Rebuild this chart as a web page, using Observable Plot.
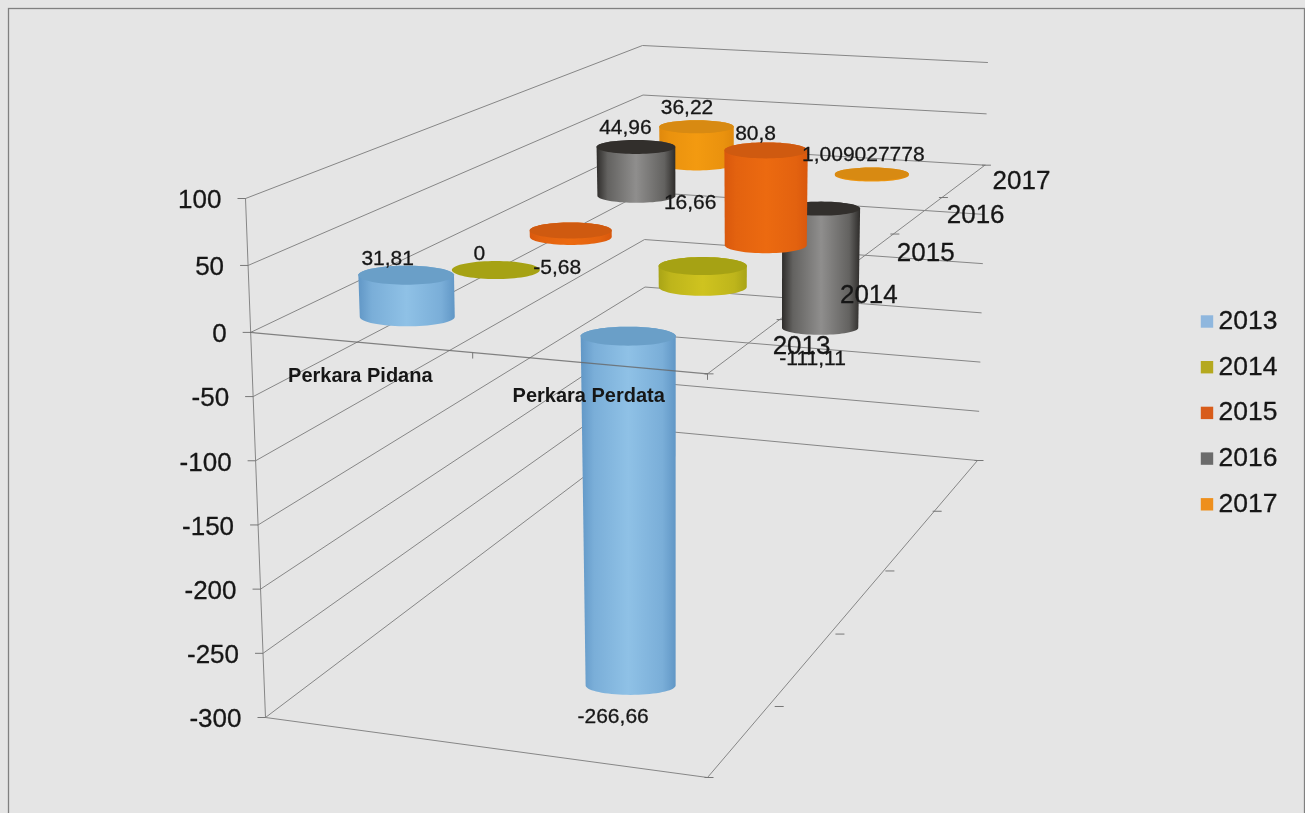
<!DOCTYPE html>
<html>
<head>
<meta charset="utf-8">
<script src="https://cdn.jsdelivr.net/npm/d3@7"></script>
<script src="https://cdn.jsdelivr.net/npm/@observablehq/plot@0.6"></script>
<style>
html,body{margin:0;padding:0;background:#e5e5e5;overflow:hidden}
svg{display:block;filter:blur(0.4px)}
</style>
</head>
<body>
<div id="chart"></div>
<script>
// ---- data ----
const categories = ["Perkara Pidana", "Perkara Perdata"];
const years = [2013, 2014, 2015, 2016, 2017];
const perkaraPidana = [31.81, 0, -5.68, 44.96, 36.22];
const perkaraPerdata = [-266.66, 16.66, 80.8, -111.11, 1.009027778];
const pidanaLabels = ["31,81", "0", "-5,68", "44,96", "36,22"];
const perdataLabels = ["-266,66", "16,66", "80,8", "-111,11", "1,009027778"];
const valueTicks = [100, 50, 0, -50, -100, -150, -200, -250, -300];

// ---- 3-D box of the chart: corners in screen space (t = value level, c = category, d = depth) ----
const level = d3.scaleLinear().domain([100, 0, -300]).range([0, 0.258, 1]);
const FL = [[245, 198], [265, 717]], FR = [[707, 233], [707, 777]];
const BL = [[642, 45], [646, 429]], BR = [[987, 62], [977, 460]];
const lerp = (a, b, k) => a + (b - a) * k;
const edge = (e, t) => [lerp(e[0][0], e[1][0], t), lerp(e[0][1], e[1][1], t)];
function project(c, d, v) {
  const t = level(v);
  const fl = edge(FL, t), fr = edge(FR, t), bl = edge(BL, t), br = edge(BR, t);
  const f = [lerp(fl[0], fr[0], c), lerp(fl[1], fr[1], c)];
  const b = [lerp(bl[0], br[0], c), lerp(bl[1], br[1], c)];
  // small perspective correction inside the box, below the zero level
  const sag = 108 * Math.max(0, t - 0.258) * d * (1 - d) * (1 - d);
  return {x: lerp(f[0], b[0], d), y: lerp(f[1], b[1], d) + sag};
}
const depthEdges = [0, 0.26, 0.485, 0.67, 0.845, 1];
const depthMid = years.map((_, i) => (depthEdges[i] + depthEdges[i + 1]) / 2);
const catMid = [0.24, 0.74];
const catEdge = [0, 0.486, 1];

// ---- styling by series ----
const radiusX = [47.5, 44, 41, 39, 37];
const radiusY = [9.5, 9, 8, 7, 6.5];
const bodyEdge = ["#6197c6", "#a9a416", "#d9580d", "#2e2c2a", "#e0890c"];
const bodyMid  = ["#8fc1e6", "#cfc31f", "#ec6a10", "#8f8e8d", "#f39a10"];
const capFill  = ["#6a9fc8", "#a6a214", "#cf5a10", "#322f2c", "#d88a12"];
const swatch   = ["#8fb7de", "#b5a91f", "#d85c1a", "#6b6b6b", "#ee8f1c"];
const textInk = "#161616";

// ---- build rows ----
const rows = [];
years.forEach((year, i) => {
  rows.push({year, i, c: 0, value: perkaraPidana[i], label: pidanaLabels[i]});
  rows.push({year, i, c: 1, value: perkaraPerdata[i], label: perdataLabels[i]});
});
const labelShift = {
  "31,81": [-19, -17], "0": [-17, -17], "-5,68": [-14, 30], "44,96": [-11, -20], "36,22": [-10, -20],
  "80,8": [-11, -18], "16,66": [-13, -64], "1,009027778": [-9, -20], "-111,11": [-8, 30], "-266,66": [-18, 30]
};
const thetas = d3.range(0, 37).map(k => Math.PI - k * Math.PI / 36);
const shrink = v => 1 + 0.08 * (0.258 - level(v));

function cylinderShapes(r) {
  const a = project(catMid[r.c], depthMid[r.i], Math.max(r.value, 0));
  const b = project(catMid[r.c], depthMid[r.i], Math.min(r.value, 0));
  const ax = radiusX[r.i] * shrink(Math.max(r.value, 0));
  const bx = radiusX[r.i] * shrink(Math.min(r.value, 0));
  const ry = radiusY[r.i];
  const body = thetas.map(h => ({
    x1: a.x + ax * Math.cos(h), y1: a.y - ry * Math.sin(h),
    x2: b.x + bx * Math.cos(h), y2: b.y + ry * Math.sin(h)
  }));
  const cap = thetas.map(h => ({
    x1: a.x + ax * Math.cos(h), y1: a.y - ry * Math.sin(h),
    x2: a.x + ax * Math.cos(h), y2: a.y + ry * Math.sin(h)
  }));
  return {body, cap};
}

// ---- lines ----
const gridRows = valueTicks.flatMap(v => {
  const t = level(v), a = edge(FL, t), b = edge(BL, t), e = edge(BR, t);
  return [{x: a[0], y: a[1], v}, {x: b[0], y: b[1], v}, {x: e[0], y: e[1], v}];
});
const axisTicks = valueTicks.map(v => ({v, ...project(0, 0, v)}));
const depthTickRows = [0, -300].flatMap(v => depthEdges.map(d => ({...project(1, d, v)})));
const catTickRows = catEdge.slice(1).map(c => ({...project(c, 0, 0)}));
const categoryAxis = [project(0, 0, 0), project(1, 0, 0)];
const depthAxis = [project(1, 0, 0), project(1, 1, 0)];
const frontBase = [project(0, 0, -300), project(1, 0, -300), project(1, 1, -300)];
const leftAxis = [project(0, 0, 100), project(0, 0, 0), project(0, 0, -300)];

const lineColor = "#868686";
const font = "Liberation Sans, Arial, sans-serif";

const gradients = () => {
  const svgNS = "http://www.w3.org/2000/svg";
  const defs = document.createElementNS(svgNS, "defs");
  years.forEach((y, i) => {
    const g = document.createElementNS(svgNS, "linearGradient");
    g.setAttribute("id", "body" + y);
    const mix = d3.interpolateRgb(bodyEdge[i], bodyMid[i]);
    [[0, bodyEdge[i]], [0.14, mix(0.55)], [0.5, bodyMid[i]], [0.86, mix(0.55)], [1, bodyEdge[i]]].forEach(([o, col]) => {
      const s = document.createElementNS(svgNS, "stop");
      s.setAttribute("offset", o);
      s.setAttribute("stop-color", col);
      g.appendChild(s);
    });
    defs.appendChild(g);
  });
  return defs;
};

// back to front
const drawOrder = d3.range(years.length - 1, -1, -1).flatMap(i => rows.filter(r => r.i === i));
const cylinderMarks = drawOrder.flatMap(r => {
  const {body, cap} = cylinderShapes(r);
  const marks = [];
  if (r.value !== 0) marks.push(Plot.area(body, {x1: "x1", y1: "y1", x2: "x2", y2: "y2", fill: `url(#body${r.year})`}));
  marks.push(Plot.area(cap, {x1: "x1", y1: "y1", x2: "x2", y2: "y2", fill: capFill[r.i]}));
  return marks;
});

const legendRows = years.map((year, i) => ({year, i}));

const plot = Plot.plot({
  width: 1305,
  height: 813,
  margin: 0,
  style: {background: "#e5e5e5", fontFamily: font},
  x: {domain: [0, 1305], range: [0, 1305], axis: null},
  y: {domain: [0, 813], range: [0, 813], axis: null},
  marks: [
    gradients,
    Plot.frame({stroke: "#808080", strokeWidth: 1.3, insetLeft: 8, insetTop: 8, insetRight: 1, insetBottom: -5}),
    Plot.line(gridRows, {x: "x", y: "y", z: "v", stroke: lineColor, strokeWidth: 1}),
    Plot.line(leftAxis, {x: "x", y: "y", stroke: lineColor, strokeWidth: 1}),
    Plot.line(depthAxis, {x: "x", y: "y", stroke: lineColor, strokeWidth: 1}),
    Plot.line(frontBase, {x: "x", y: "y", stroke: lineColor, strokeWidth: 1}),
    Plot.link(axisTicks, {x1: d => d.x - 8, x2: "x", y1: "y", y2: "y", stroke: "#777"}),
    Plot.link(depthTickRows, {x1: d => d.x - 3, x2: d => d.x + 6, y1: "y", y2: "y", stroke: "#777"}),
    ...cylinderMarks,
    Plot.line(categoryAxis, {x: "x", y: "y", stroke: "#666", strokeWidth: 1.2, strokeOpacity: 0.8}),
    Plot.link(catTickRows, {x1: "x", x2: "x", y1: "y", y2: d => d.y + 6, stroke: "#777"}),
    // value axis labels
    Plot.text(axisTicks, {x: "x", y: "y", text: d => String(d.v), dx: -24, dy: 1.5, textAnchor: "end", fontSize: 26, fill: textInk, stroke: textInk, strokeWidth: 0.3}),
    // category labels
    Plot.text(categories, {x: (_, i) => project(catMid[i], 0, 0).x, y: (_, i) => project(catMid[i], 0, 0).y, text: d => d, dy: 33, fontSize: 20, fontWeight: 700, fill: textInk}),
    // depth axis labels
    Plot.text(years, {x: (_, i) => project(1, depthMid[i], 0).x, y: (_, i) => project(1, depthMid[i], 0).y, text: d => String(d), dx: 58, dy: -1, fontSize: 26, fill: textInk, stroke: textInk, strokeWidth: 0.3}),
    // data labels
    ...rows.map(r => {
      const s = labelShift[r.label];
      const p = project(catMid[r.c], depthMid[r.i], r.value);
      return Plot.text([r], {x: () => p.x, y: () => p.y, text: "label", dx: s[0], dy: s[1], fontSize: 21, fill: textInk, stroke: textInk, strokeWidth: 0.3});
    }),
    // legend
    Plot.dot(legendRows, {x: () => 1206.5, y: d => 321 + d.i * 45.7, symbol: "square", r: 7, fill: d => swatch[d.i]}),
    Plot.text(legendRows, {x: () => 1218, y: d => 320 + d.i * 45.7, text: d => String(d.year), textAnchor: "start", fontSize: 26.5, fill: textInk, stroke: textInk, strokeWidth: 0.3})
  ]
});
document.getElementById("chart").appendChild(plot);
</script>
</body>
</html>
